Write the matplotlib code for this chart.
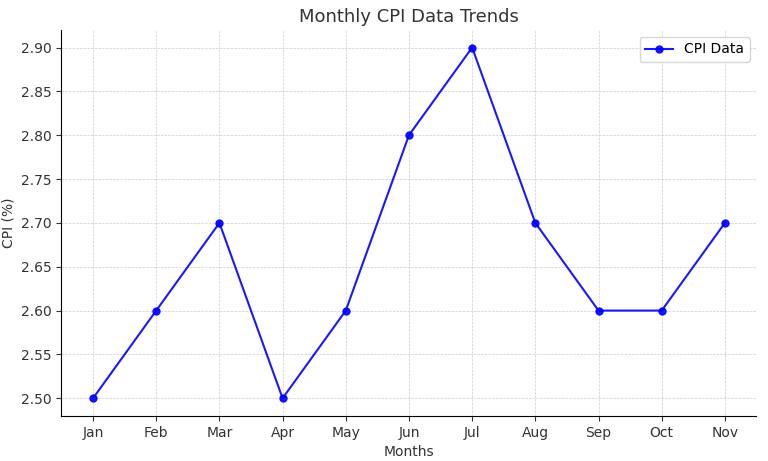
import matplotlib.pyplot as plt

months = ["Jan","Feb","Mar","Apr","May","Jun","Jul","Aug","Sep","Oct","Nov"]
cpi = [2.5,2.6,2.7,2.5,2.6,2.8,2.9,2.7,2.6,2.6,2.7]

fig, ax = plt.subplots(figsize=(7.68,4.61), dpi=100)
ax.plot(months, cpi, marker='o', color='#0000ff', markersize=5, linewidth=1.5, label='CPI Data', alpha=0.9)
ax.set_title("Monthly CPI Data Trends", fontsize=13, color='#333333')
ax.set_xlabel("Months", fontsize=10, color='#333333')
ax.set_ylabel("CPI (%)", fontsize=10, color='#333333')
ax.yaxis.set_major_formatter(plt.FormatStrFormatter('%.2f'))
ax.set_yticks([2.5+0.05*i for i in range(9)])
ax.grid(True, linestyle='--', linewidth=0.5, color='#cccccc')
ax.spines['top'].set_visible(False)
ax.spines['right'].set_visible(False)
ax.tick_params(colors='#333333')
ax.legend(loc='upper right')
fig.subplots_adjust(left=0.08, right=0.985, top=0.935, bottom=0.098)
fig.savefig("out.png")
